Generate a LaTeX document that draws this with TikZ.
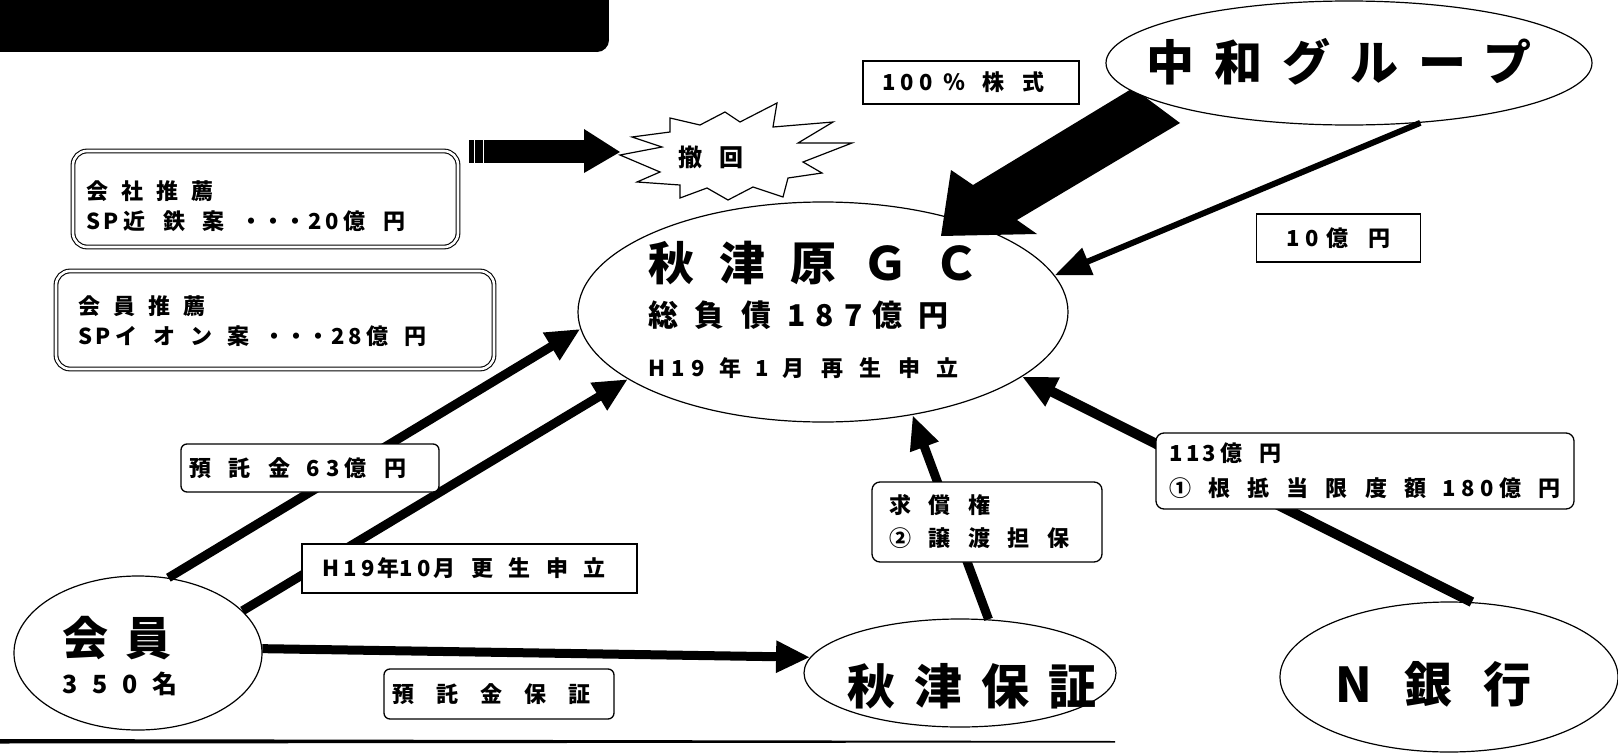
\documentclass[tikz,border=0pt]{standalone}
\usepackage{fontspec}
\setmainfont{Noto Sans CJK JP}
\usetikzlibrary{arrows.meta,shapes.geometric}
\newcommand\tk[2]{{\addfontfeature{LetterSpace=#1}#2}}
\newcommand\gp[1]{\hspace{#1pt}}
\begin{document}
\begin{tikzpicture}[x=1pt,y=-1pt,
  ell/.style={ellipse, draw, line width=1.2pt, fill=white, inner sep=0pt},
  lbl/.style={draw, fill=white, line width=1.3pt, align=left, inner ysep=0pt,
    font=\bfseries\fontsize{22}{33}\selectfont\addfontfeature{LetterSpace=70}},
  dbl/.style={draw, line width=1.1pt, double=white, double distance=2.6pt, rounded corners=14pt,
    fill=white, inner sep=0pt},
  txt/.style={inner sep=0pt, anchor=west, align=left,
    font=\bfseries\fontsize{22}{30}\selectfont\addfontfeature{LetterSpace=60}},
  big/.style={inner sep=0pt, font=\bfseries\fontsize{48}{48}\selectfont},
  thk/.style={line width=9pt, -{Triangle[length=34pt,width=30pt]}},
  thn/.style={line width=6pt, -{Triangle[length=36pt,width=28pt]}}
]
\useasboundingbox (0,0) rectangle (1618,755);
% black title bar
\fill (0,0) rectangle (597,52);
\fill (0,0) rectangle (609,40);
\fill (597,40) circle (12pt);

% nodes (ellipses)
\node[ell, minimum width=490pt, minimum height=220pt] (gc) at (823,312) {};
\node[ell, minimum width=248pt, minimum height=154pt] (kai) at (138,653) {};
\node[ell, minimum width=312pt, minimum height=108pt] (akh) at (960,673) {};
\node[ell, minimum width=338pt, minimum height=150pt] (nb) at (1449,677) {};

% connectors
\draw[thk] (kai.68) -- (gc.184.7);
\draw[thk] (kai.22.5) -- (gc.199.6);
\draw[thk] (kai.2.8) -- (akh.174);
\draw[thk, -{Triangle[length=34pt,width=28pt]}] (akh.62) -- (gc.311.4);
\draw[thk, line width=10pt] (nb.73.6) -- (gc.342.6);

% big arrow from Chuwa group
\fill (1133,88) -- (1180,123) -- (1017,220) -- (1037,234) -- (941,236) -- (951,170) -- (973,185) -- cycle;

\node[ell, minimum width=486pt, minimum height=124pt] (chw) at (1349,63) {};
\draw[thn] (chw.-40) -- (gc.9.1);

% texts of ellipses
\node[big, anchor=west, font=\bfseries\fontsize{46}{46}\selectfont] (gct1) at (648,263) {\tk{55}{秋津原ＧＣ}};
\node[inner sep=0pt, anchor=west, font=\bfseries\fontsize{30}{30}\selectfont] (gct2) at (648,315) {\tk{55}{総負債}\gp{16}\tk{35}{187}\gp{9}\tk{55}{億円}};
\node[inner sep=0pt, anchor=west, font=\bfseries\fontsize{22}{22}\selectfont] (gct3) at (648,368) {\tk{30}{H19}\gp{14}年\gp{14}1\gp{14}\tk{75}{月再生申立}};
\node[big] (chwt) at (1339,62) {\tk{42}{中和グループ}};
\node[big, anchor=west, font=\bfseries\fontsize{46}{46}\selectfont] (kait1) at (62,638) {\tk{38}{会員}};
\node[inner sep=0pt, anchor=west, font=\bfseries\fontsize{25}{25}\selectfont] (kait2) at (62,684) {\tk{60}{350名}};
\node[big] (akht) at (972,686) {\tk{40}{秋津保証}};
\node[big] (nbt) at (1434,684) {\tk{66}{N銀行}};

% label boxes
\node[lbl, minimum height=43pt, text width=178pt, inner xsep=19pt, font=\bfseries\fontsize{22}{33}\selectfont\addfontfeature{LetterSpace=80}] (b100) at (971,82.5) {\tk{25}{100}\gp{10}％株式};
\node[lbl, minimum height=48pt, text width=150pt, inner xsep=7pt, align=center, font=\bfseries\fontsize{22}{33}\selectfont\addfontfeature{LetterSpace=90}] (b10) at (1338.5,238) {\tk{25}{10}\gp{8}億円};
\node[lbl, rounded corners=6pt, minimum height=48pt, text width=242pt, inner xsep=8pt, font=\bfseries\fontsize{22}{33}\selectfont\addfontfeature{LetterSpace=80}] (b63) at (310,468) {預託金\gp{16}\tk{30}{63}\gp{5}億円};
\node[lbl, minimum height=49pt, text width=295pt, inner xsep=20pt] (bh19) at (469.5,568.5) {\tk{20}{H19}\gp{3}年\tk{20}{10}\gp{3}月更生申立};
\node[lbl, rounded corners=6pt, minimum height=50pt, text width=214pt, inner xsep=8pt, font=\bfseries\fontsize{22}{33}\selectfont\addfontfeature{LetterSpace=100}] (bhs) at (499,694) {預託金保証};
\node[lbl, rounded corners=8pt, minimum height=80pt, text width=196pt, inner xsep=17pt, font=\bfseries\fontsize{22}{33}\selectfont\addfontfeature{LetterSpace=80}] (bkyu) at (987,522) {求償権\\②譲渡担保};
\node[lbl, rounded corners=8pt, minimum height=76pt, minimum width=418pt, inner xsep=8pt, font=\bfseries\fontsize{22}{35}\selectfont\addfontfeature{LetterSpace=78}] (b113) at (1365,471) {\tk{15}{113}\gp{4}億円\hspace*{\fill}\\①根抵当限度額\gp{16}\tk{25}{180}\gp{6}億円};

\node[dbl, minimum width=385pt, minimum height=96pt] (bx1) at (265.5,199) {};
\node[txt] (bx1t) at (86,206) {\tk{60}{会社推薦}\\\tk{15}{SP}\gp{5}\tk{80}{近鉄案}\gp{16}\tk{0}{・・・}\gp{2}\tk{15}{20}\gp{5}\tk{80}{億円}};
\node[dbl, minimum width=438pt, minimum height=98pt] (bx2) at (275,320) {};
\node[txt] (bx2t) at (78,321) {\tk{60}{会員推薦}\\\tk{15}{SP}\gp{5}\tk{70}{イオン案}\gp{14}\tk{0}{・・・}\gp{2}\tk{15}{28}\gp{5}\tk{70}{億円}};

% starburst "withdrawn"
\filldraw[fill=white, line width=1.2pt] (620,155) -- (662,147) -- (632,137) -- (670,132) -- (670,118) -- (700,125) -- (725,112) -- (740,122) -- (777,103) -- (773,127) -- (833,122) -- (798,143) -- (852,143) -- (803,162) -- (822,173) -- (788,178) -- (783,197) -- (753,187) -- (728,200) -- (707,188) -- (680,198) -- (680,185) -- (637,182) -- (660,172) -- cycle;
\node[inner sep=0pt, font=\bfseries\fontsize{24}{24}\selectfont] (tk) at (711,157) {\tk{70}{撤回}};
\coordinate (tktip) at (620,152);
\fill (469,140) rectangle (584,163);
\fill (584,129) -- (tktip) -- (584,173) -- cycle;
\draw[white, line width=1.2pt] (474.5,139) -- (474.5,164) (483.5,139) -- (483.5,164);

% bottom rule
\fill (0,739) -- (1115,741) -- (1115,742.5) -- (0,743.5) -- cycle;
\end{tikzpicture}
\end{document}
